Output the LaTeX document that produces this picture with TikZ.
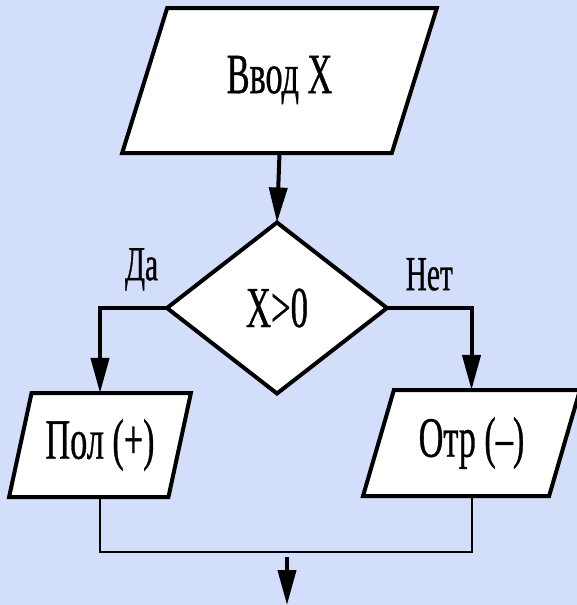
\documentclass[tikz,border=0pt]{standalone}
\usepackage{fontspec}
\usepackage{tikz}
\usetikzlibrary{arrows.meta,positioning,shapes.geometric}
\newfontfamily\narrowserif[FakeStretch=0.6,FakeBold=0.6]{Liberation Serif}
\definecolor{Sky}{HTML}{D3DEFA}
\definecolor{Ink}{HTML}{000000}

\begin{document}
\begin{tikzpicture}[x=1pt,y=-1pt,
    io/.style={trapezium,trapezium stretches=true,draw=Ink,fill=white,line width=4pt,inner sep=0pt,outer sep=0pt,font=\narrowserif\fontsize{57}{60}\selectfont},
    flow/.style={line width=4pt,Ink,-{Triangle[length=35pt,width=18pt]}}]
    \fill[Sky] (0,0) rectangle (577,605);
    \useasboundingbox (0,0) rectangle (577,605);
    \node[io,minimum width=315pt,minimum height=145pt,trapezium left angle=66.8,trapezium right angle=113.2] (in) at (279.5,80.5) {\raisebox{12pt}{Ввод X}};
    \node[diamond,draw=Ink,fill=white,line width=4pt,inner sep=0pt,outer sep=0pt,minimum width=220pt,minimum height=171pt,font=\narrowserif\fontsize{58}{60}\selectfont] (cond) at (277,308) {\raisebox{-3pt}{X>0}};
    \node[io,minimum width=182pt,minimum height=104pt,trapezium left angle=70.9,trapezium right angle=109.1] (pos) at (100,445) {\raisebox{-7pt}{Пол (+)}};
    \node[io,minimum width=217pt,minimum height=106pt,trapezium left angle=67.9,trapezium right angle=112.1] (neg) at (471.5,443) {\raisebox{-9pt}{Отр (–)}};
    \coordinate (merge) at (287,552);
    \coordinate (out) at (287,605);
    \draw[flow] (in.south) -- (cond.north);
    \draw[flow] (cond.west) -| node[pos=0.19,above=12pt,font=\narrowserif\fontsize{49}{50}\selectfont] (yes) {Да} (pos.north);
    \draw[flow] (cond.east) -| node[pos=0.25,above=12pt,font=\narrowserif\fontsize{49}{50}\selectfont] (no) {Нет} (neg.north);
    \draw[line width=2pt,Ink] (pos.south) |- (merge) -| (neg.south);
    \draw[flow] ([yshift=-5pt]merge) -- (out);
\end{tikzpicture}
\end{document}
